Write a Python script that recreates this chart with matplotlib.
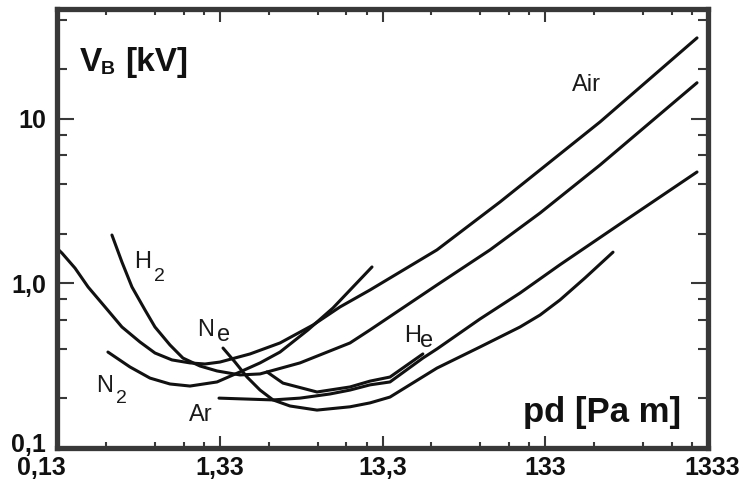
import matplotlib
matplotlib.use("Agg")
import matplotlib.pyplot as plt
from matplotlib.ticker import FixedLocator, FixedFormatter, NullFormatter
from matplotlib.transforms import ScaledTranslation

# --- DATA: pd [Pa m] vs breakdown voltage V_B [kV] ---
air_pd = [0.133, 0.143, 0.172, 0.207, 0.263, 0.334, 0.431, 0.533, 0.678, 0.875,
          1.082, 1.337, 2.046, 3.127, 4.987, 7.306, 11.17, 28.8, 70.3, 289.3, 1141]
air_vb = [1.64, 1.53, 1.24, 0.952, 0.720, 0.544, 0.441, 0.378, 0.343, 0.329,
          0.324, 0.333, 0.373, 0.435, 0.559, 0.720, 0.913, 1.60, 3.13, 9.59, 31.1]

n2_pd = [0.274, 0.374, 0.497, 0.659, 0.875, 1.282, 1.775, 2.357, 3.127, 4.645, 6.617, 11.49]
n2_vb = [0.383, 0.311, 0.266, 0.245, 0.238, 0.252, 0.290, 0.329, 0.383, 0.522, 0.710, 1.26]

h2_pd = [0.290, 0.334, 0.385, 0.463, 0.533, 0.659, 0.792, 1.008, 1.282, 1.775,
         2.357, 4.148, 8.417, 11.17, 28.8, 61.0, 123.8, 289.3, 1141]
h2_vb = [1.97, 1.35, 0.952, 0.690, 0.544, 0.423, 0.352, 0.315, 0.294, 0.278,
         0.282, 0.329, 0.435, 0.522, 0.979, 1.60, 2.68, 5.25, 16.6]

ne_pd = [1.396, 1.654, 1.961, 2.357, 2.832, 3.602, 5.277, 8.417, 11.17, 14.82,
         28.8, 52.9, 93.3, 123.8, 164.2, 233.8, 347.7]
ne_vb = [0.405, 0.333, 0.270, 0.225, 0.196, 0.180, 0.170, 0.178, 0.188, 0.204,
         0.306, 0.411, 0.544, 0.643, 0.794, 1.08, 1.55]

ar_pd = [1.319, 1.775, 2.832, 4.148, 6.341, 8.417, 11.17, 14.82, 23.6, 28.8,
         52.9, 93.3, 164.2, 383.9, 1141]
ar_vb = [0.201, 0.199, 0.196, 0.201, 0.213, 0.225, 0.242, 0.252, 0.352, 0.400,
         0.608, 0.875, 1.30, 2.30, 4.76]

he_pd = [2.600, 3.262, 5.277, 8.417, 11.17, 14.82, 23.6]
he_vb = [0.290, 0.248, 0.219, 0.235, 0.255, 0.270, 0.373]

x_ticks = [0.1333, 1.333, 13.33, 133.3, 1333]
x_labels = ["0,13", "1,33", "13,3", "133", "1333"]
y_ticks = [0.1, 1.0, 10]
y_labels = ["0,1", "1,0", "10"]

W, H = 743, 488
FRAME = "#383838"
LINE = "#111111"
BOLD = dict(family="Liberation Sans", weight="bold", color="#111111")
REG = dict(family="Liberation Sans", color="#1a1a1a")


def fp(x, y):
    # pixel position -> figure fraction
    return x / W, 1 - y / H


fig = plt.figure(figsize=(W / 100, H / 100), dpi=100)
ax = fig.add_axes([57 / W, 40 / H, 651 / W, 439 / H])
ax.set_xscale("log")
ax.set_yscale("log")

for xs, ys in [(air_pd, air_vb), (n2_pd, n2_vb), (h2_pd, h2_vb),
               (ne_pd, ne_vb), (ar_pd, ar_vb), (he_pd, he_vb)]:
    ax.plot(xs, ys, color=LINE, lw=2.2, solid_capstyle="round", solid_joinstyle="round")

ax.set_xlim(0.1333, 1333)
ax.set_ylim(0.1, 46.6)

# ticks
ax.xaxis.set_major_locator(FixedLocator(x_ticks))
ax.xaxis.set_major_formatter(FixedFormatter(x_labels))
ax.xaxis.set_minor_locator(FixedLocator([b * m for b in x_ticks[:-1] for m in (2, 4, 6, 8)]))
ax.xaxis.set_minor_formatter(NullFormatter())
ax.yaxis.set_major_locator(FixedLocator(y_ticks))
ax.yaxis.set_major_formatter(FixedFormatter(y_labels))
ax.yaxis.set_minor_locator(FixedLocator([b * m for b in (0.1, 1, 10) for m in (2, 4, 6, 8)]))
ax.yaxis.set_minor_formatter(NullFormatter())

ax.tick_params(which="both", direction="in", top=True, right=True, color=FRAME, width=1.5)
ax.tick_params(axis="x", which="major", length=9, pad=6)
ax.tick_params(axis="x", which="minor", length=4.5)
ax.tick_params(axis="y", which="major", length=12, pad=8)
ax.tick_params(axis="y", which="minor", length=7)

for lab in ax.get_xticklabels() + ax.get_yticklabels():
    lab.set_fontfamily("Liberation Sans")
    lab.set_fontweight("bold")
    lab.set_fontsize(18)
    lab.set_color("#111111")

xl = ax.get_xticklabels()
xl[0].set_transform(xl[0].get_transform() + ScaledTranslation(-16 / 100, 0, fig.dpi_scale_trans))
xl[-1].set_transform(xl[-1].get_transform() + ScaledTranslation(4 / 100, 0, fig.dpi_scale_trans))
yl = ax.get_yticklabels()
yl[0].set_transform(yl[0].get_transform() + ScaledTranslation(0, 6 / 100, fig.dpi_scale_trans))

for sp in ax.spines.values():
    sp.set_color(FRAME)
    sp.set_linewidth(3.8)

# axis titles inside the frame
fig.text(*fp(80, 71), "V", fontsize=24, va="baseline", **BOLD)
fig.text(*fp(101, 74), "B", fontsize=14, va="baseline", **BOLD)
fig.text(*fp(125, 71), "[kV]", fontsize=24, va="baseline", **BOLD)
fig.text(*fp(523, 422), "pd [Pa m]", fontsize=25, va="baseline", **BOLD)

# gas labels
fig.text(*fp(572, 91), "Air", fontsize=17, va="baseline", **REG)
fig.text(*fp(134, 268), "H", fontsize=17, va="baseline", **REG)
fig.text(*fp(154, 281), "2", fontsize=14, va="baseline", **REG)
fig.text(*fp(197, 336), "N", fontsize=17, va="baseline", **REG)
fig.text(*fp(217, 341), "e", fontsize=17, va="baseline", **REG)
fig.text(*fp(96, 392), "N", fontsize=17, va="baseline", **REG)
fig.text(*fp(116, 403), "2", fontsize=14, va="baseline", **REG)
fig.text(*fp(189, 421), "Ar", fontsize=17, va="baseline", **REG)
fig.text(*fp(404, 342), "H", fontsize=17, va="baseline", **REG)
fig.text(*fp(420, 347), "e", fontsize=17, va="baseline", **REG)

fig.savefig("out.png", dpi=100, facecolor="white")
